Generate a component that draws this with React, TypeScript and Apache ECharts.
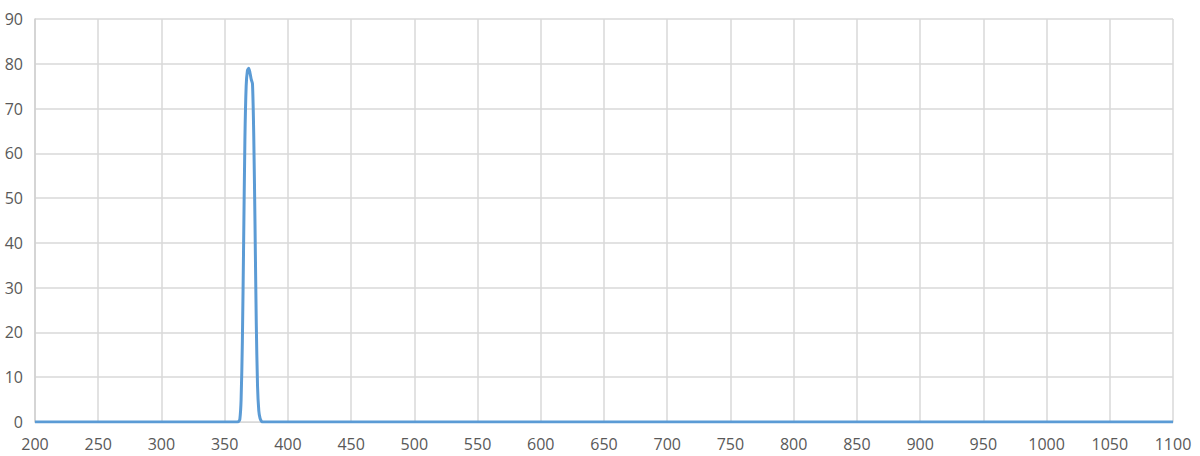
import { useRef, useEffect } from 'react'
import * as echarts from 'echarts'

// wavelength (nm) and transmission (%)
const wavelengths = [200, 300, 358, 360, 361, 362, 363, 364, 365, 366, 367, 368, 369, 370, 371, 372, 373, 374, 375, 376, 377, 378, 379, 380, 382, 400, 600, 800, 1000, 1100]
const transmission = [0, 0, 0, 0, 0.1, 0.6, 5, 18, 40, 63, 75, 78.5, 79, 78, 76.5, 75.5, 64, 44, 22, 8, 2.5, 0.8, 0.2, 0, 0, 0, 0, 0, 0, 0]

const xMin = 200
const xMax = 1100
const xStep = 50
const yMin = 0
const yMax = 90
const yStep = 10

export default function App() {
  const chartRef = useRef<HTMLDivElement>(null)

  useEffect(() => {
    if (!chartRef.current) return
    const chart = echarts.init(chartRef.current, undefined, { renderer: 'svg' })

    const labelStyle = { color: '#595959', fontSize: 16, fontFamily: '"Open Sans", sans-serif' }

    chart.setOption({
      animation: false,
      grid: { left: 35, right: 27, top: 19, bottom: 34 },
      xAxis: {
        type: 'value',
        min: xMin,
        max: xMax,
        interval: xStep,
        axisLine: { show: true, lineStyle: { color: '#d9d9d9' } },
        axisTick: { show: false },
        axisLabel: { ...labelStyle, margin: 14, formatter: (v: number) => String(v) },
        splitLine: { show: true, lineStyle: { color: '#d9d9d9', width: 1.5 } },
      },
      yAxis: {
        type: 'value',
        min: yMin,
        max: yMax,
        interval: yStep,
        axisLine: { show: true, lineStyle: { color: '#d0d0d0', width: 1.5 } },
        axisTick: { show: false },
        axisLabel: { ...labelStyle, margin: 12 },
        splitLine: { show: true, lineStyle: { color: '#d9d9d9', width: 1.5 } },
      },
      series: [
        {
          type: 'line',
          data: wavelengths.map((w, i) => [w, transmission[i]]),
          showSymbol: false,
          smooth: 0.25,
          lineStyle: { color: '#5b9bd5', width: 3 },
        },
      ],
    })

    return () => chart.dispose()
  }, [])

  return (
    <div
      ref={chartRef}
      style={{ position: 'fixed', left: 0, top: 0, width: 1200, height: 456, background: '#fff' }}
    />
  )
}
